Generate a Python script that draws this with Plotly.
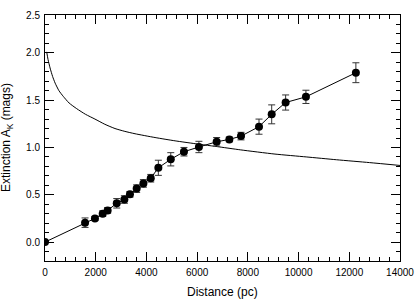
import plotly.graph_objects as go

# Measured extinction vs distance
distance = [0, 1580, 1970, 2275, 2470, 2830, 3130, 3350, 3615, 3880, 4170, 4470, 4960, 5480, 6070, 6770, 7270, 7730, 8440, 8940, 9490, 10290, 12260]
extinction = [0.0, 0.205, 0.25, 0.30, 0.335, 0.41, 0.45, 0.505, 0.565, 0.62, 0.675, 0.785, 0.875, 0.955, 1.005, 1.06, 1.085, 1.12, 1.22, 1.35, 1.475, 1.535, 1.79]
extinction_err = [0.0, 0.05, 0.02, 0.03, 0.03, 0.05, 0.04, 0.03, 0.04, 0.04, 0.04, 0.08, 0.07, 0.045, 0.06, 0.045, 0.025, 0.04, 0.08, 0.10, 0.08, 0.07, 0.105]

# Reference curve
curve_distance = [67, 120, 200, 300, 400, 550, 720, 950, 1250, 1600, 1970, 2360, 2760, 3150, 3550, 4340, 5130, 5920, 6900, 7700, 9070, 10300, 11500, 12800, 14000]
curve_extinction = [2.01, 1.93, 1.84, 1.75, 1.68, 1.60, 1.54, 1.47, 1.41, 1.35, 1.30, 1.245, 1.20, 1.17, 1.145, 1.105, 1.07, 1.04, 1.005, 0.975, 0.93, 0.90, 0.87, 0.84, 0.81]

x_ticks = [0, 2000, 4000, 6000, 8000, 10000, 12000, 14000]
y_tickvals = [0.0, 0.5, 1.0, 1.5, 2.0, 2.4]
y_ticktext = ["0.0", "0.5", "1.0", "1.5", "2.0", "2.5"]

W, H = 415, 301
ML, MR, MT, MB = 45, 15, 15, 40

fig = go.Figure()
fig.add_trace(go.Scatter(
    x=curve_distance, y=curve_extinction, mode="lines",
    line=dict(color="black", width=1, shape="spline", smoothing=0.6),
    hoverinfo="skip", showlegend=False))
fig.add_trace(go.Scatter(
    x=distance, y=extinction, mode="lines+markers",
    line=dict(color="black", width=1),
    marker=dict(color="black", size=8),
    error_y=dict(type="data", array=extinction_err, visible=True,
                 color="#333333", thickness=1, width=3.5),
    showlegend=False))

font_family = "Liberation Sans, Arial, sans-serif"
fig.update_layout(
    width=W, height=H,
    margin=dict(l=ML, r=MR, t=MT, b=MB, autoexpand=False),
    paper_bgcolor="white", plot_bgcolor="white",
    font=dict(family=font_family, size=10, color="black"),
    annotations=[
        dict(text="Distance (pc)", xref="paper", yref="paper",
             x=0.5, y=-(292 - (H - MB)) / (H - MT - MB),
             xanchor="center", yanchor="middle", showarrow=False,
             font=dict(size=12)),
        dict(text="Extinction A<sub>K</sub> (mags)", xref="paper", yref="paper",
             x=-(ML - 7) / (W - ML - MR), y=0.5, textangle=-90,
             xanchor="center", yanchor="middle", showarrow=False,
             font=dict(size=12)),
    ],
)
fig.update_xaxes(
    range=[0, 14000], tickvals=x_ticks, ticktext=[str(v) for v in x_ticks],
    ticks="inside", ticklen=9, tickwidth=1, tickcolor="black",
    minor=dict(ticks="inside", ticklen=4, dtick=400, tick0=0, tickcolor="black"),
    showline=True, linecolor="black", linewidth=1, mirror="ticks",
    showgrid=False, zeroline=False, automargin=False,
    ticklabelstandoff=2,
    tickfont=dict(size=10),
)
fig.update_yaxes(
    range=[-0.2, 2.4], tickvals=y_tickvals, ticktext=y_ticktext,
    ticks="inside", ticklen=9, tickwidth=1, tickcolor="black",
    minor=dict(ticks="inside", ticklen=4, dtick=0.1, tick0=0, tickcolor="black"),
    showline=True, linecolor="black", linewidth=1, mirror="ticks",
    showgrid=False, zeroline=False, automargin=False,
    ticklabelstandoff=2,
    tickfont=dict(size=10),
)

fig.write_html("out.html", config={"displayModeBar": False},
               post_script="document.body.style.margin='0';")
